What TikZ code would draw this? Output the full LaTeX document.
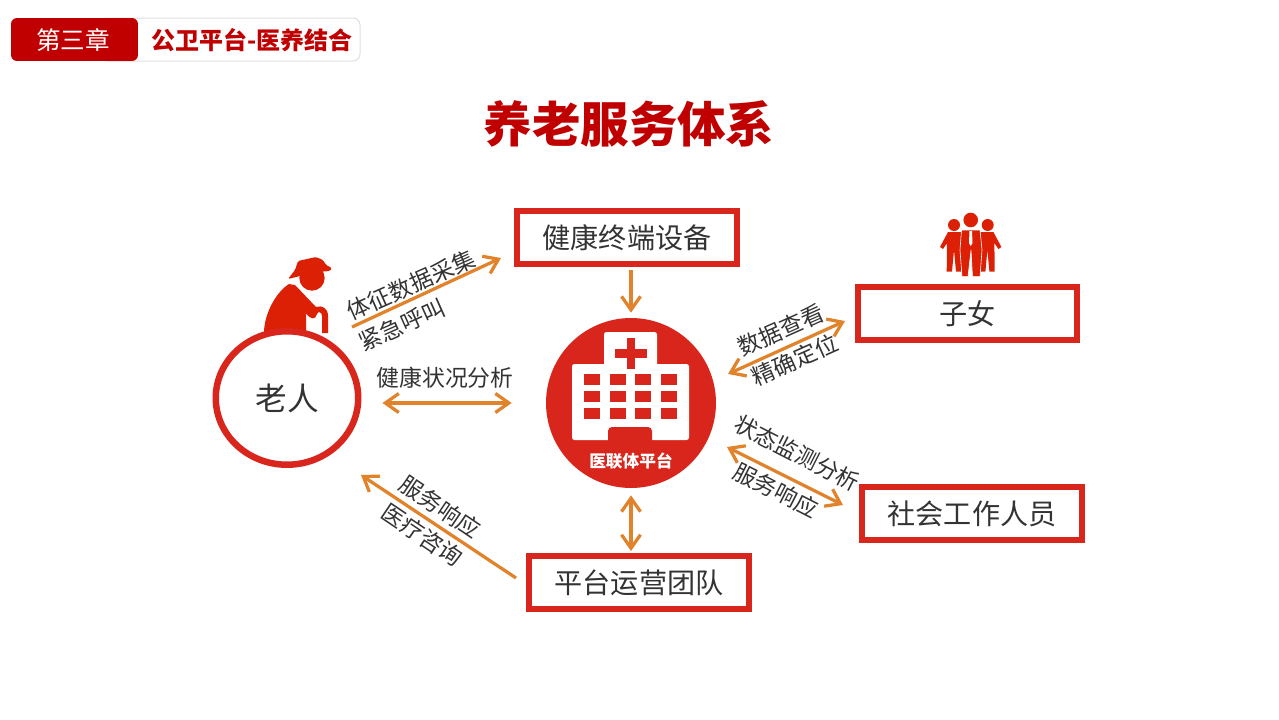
\documentclass[tikz,border=0pt]{standalone}
\usepackage{fontspec}
\usepackage{xcolor}
\setmainfont{Noto Sans CJK SC}
\usetikzlibrary{arrows.meta,shapes.geometric}
\definecolor{headred}{HTML}{C00000}
\definecolor{planred}{HTML}{D9261C}
\definecolor{iconred}{HTML}{DC2006}
\definecolor{flow}{HTML}{E0832B}
\definecolor{inktext}{HTML}{333333}
\tikzset{
 flowline/.style={draw=flow, line width=0.065cm, >={Straight Barb[length=0.27cm,width=0.38cm,line width=0.065cm]}},
 rolebox/.style={draw=planred, line width=0.12cm, minimum width=4.4cm, minimum height=1.06cm, inner sep=0pt, text=inktext, font=\fontsize{16}{16}\selectfont},
 flowtext/.style={text=inktext, inner sep=0pt, font=\fontsize{13}{13}\selectfont}
}
\begin{document}
\begin{tikzpicture}[x=0.02cm, y=-0.02cm]
 \useasboundingbox (0,0) rectangle (1279,720);
 % Chapter tab and title
 \draw[draw=black!12, fill=white, rounded corners=0.14cm, line width=0.02cm] (100,18) rectangle (360,61);
 \node[fill=headred, rounded corners=0.12cm, minimum width=2.54cm, minimum height=0.86cm, inner sep=0pt] (Chapter) at (74.5,39.5) {};
 \node[text=white, inner sep=0pt, font=\fontsize{14}{14}\selectfont] (ChapterText) at (73,40) {第三章};
 \node[text=headred, inner sep=0pt, font=\fontsize{13.65}{14}\selectfont\bfseries] (Section) at (252,40) {公卫平台-医养结合};
 \node[text=headred, inner sep=0pt, font=\fontsize{27.6}{28}\selectfont\bfseries] (Title) at (629,124) {养老服务体系};
 % Elder figure, drawn under the ring
 \fill[iconred] (264,333) .. controls (264,315) and (275,293) .. (289,284) -- (295,285) -- (316,307) .. controls (322,305) and (328,308) .. (328,316) -- (328,333) -- (322,333) -- (322,316) .. controls (322,312) and (318,311) .. (317,314) .. controls (316,320) and (310,320) .. (306,313) -- (306,333) -- cycle;
 \fill[iconred] (312,278) circle[radius=12.7];
 \fill[iconred, rounded corners=0.03cm] (288,279) -- (295,270) -- (298,261) -- (316,257) -- (323,260) -- (326,265) -- (332,268) -- (330,271) -- (317,272) -- (300,276) -- cycle;
 % Main nodes
 \node[ellipse, draw=planred, fill=white, line width=0.13cm, minimum width=2.85cm, minimum height=2.67cm, inner sep=0pt, text=inktext, font=\fontsize{18}{18}\selectfont] (Elder) at (287,398) {老人};
 \node[circle, fill=planred, minimum size=3.4cm, inner sep=0pt] (Hub) at (631,403) {};
 \node[rolebox] (Device) at (627,237.5) {健康终端设备};
 \node[rolebox] (Children) at (967.5,313.5) {子女};
 \node[rolebox] (Social) at (972,513.5) {社会工作人员};
 \node[rolebox] (Team) at (639,582.5) {平台运营团队};
 % Hospital icon inside the hub
 \fill[white, rounded corners=0.05cm] (604,332) rectangle (657,380);
 \fill[white, rounded corners=0.05cm] (572,364) rectangle (689,440);
 \fill[planred, rounded corners=0.08cm] (608,427) -- (652,427) -- (652,447) -- (608,447) -- cycle;
 \fill[planred] (627,338) rectangle (635,369);
 \fill[planred] (615,349) rectangle (647,358);
 \foreach \colx in {584.3,610,635.3,660.7}
  \foreach \rowy in {374,391,408.3}
   \fill[planred] (\colx,\rowy) rectangle ++(16,11);
 \node[text=white, inner sep=0pt, font=\fontsize{9.5}{10}\selectfont\bfseries] (HubText) at (631,461.5) {医联体平台};
 % Children figure
 \fill[iconred] (970.7,220) circle[radius=7.3];
 \fill[iconred] (954,225) circle[radius=6];
 \fill[iconred] (987.7,225) circle[radius=6];
 \foreach \mx/\sx in {0/1,1941.4/-1}
  \fill[iconred, xshift=\mx*0.02cm, xscale=\sx] (940,247) -- (948,232) -- (961,232) -- (961,271.7) -- (956,271.7) -- (954,250) -- (952,271.7) -- (946.7,271.7) -- (947,243) -- (943,249) -- cycle;
 \fill[iconred, draw=white, line width=0.012cm] (961.5,230) -- (980,230) -- (982,250) -- (980,276.7) -- (972.5,276.7) -- (971,250) -- (968,276.7) -- (962,276.7) -- (960,250) -- cycle;
 \fill[white] (969.5,231) -- (972,231) -- (972.5,243) -- (970.7,246) -- (969,243) -- cycle;
 % Free ends of the slanted arrows
 \coordinate (ElderOut) at (352,327);
 \coordinate (DeviceIn) at (501,258);
 \coordinate (HubUpper) at (728,374);
 \coordinate (ChildrenIn) at (845,321);
 \coordinate (HubLower) at (727,447);
 \coordinate (SocialIn) at (843,505);
 \coordinate (TeamOut) at (516,578);
 \coordinate (ElderIn) at (361,475);
 % Arrows
 \draw[flowline, ->, xshift=-0.04cm, shorten <=0.06cm, shorten >=0.1cm] (Device.south -| Hub.north) -- (Hub.north);
 \draw[flowline, <->, yshift=0.02cm, shorten <=0.42cm, shorten >=0.68cm] (Elder.east |- Hub.west) -- (Hub.west);
 \draw[flowline, ->] (ElderOut) -- (DeviceIn);
 \draw[flowline, <->] (HubUpper) -- (ChildrenIn);
 \draw[flowline, <->] (HubLower) -- (SocialIn);
 \draw[flowline, ->] (TeamOut) -- (ElderIn);
 \draw[flowline, <->, shorten <=0.14cm, shorten >=0.04cm] (Hub.south) -- (Hub.south |- Team.north);
 % Labels on the arrows
 \node[flowtext, rotate=24] (LabelA) at (411,285) {体征数据采集};
 \node[flowtext, rotate=24] (LabelB) at (402,325) {紧急呼叫};
 \node[flowtext] (LabelC) at (445,378) {健康状况分析};
 \node[flowtext, rotate=24] (LabelD) at (781,330) {数据查看};
 \node[flowtext, rotate=24] (LabelE) at (795,360) {精确定位};
 \node[flowtext, rotate=-27] (LabelF) at (797,453) {状态监测分析};
 \node[flowtext, rotate=-27] (LabelG) at (776,490) {服务响应};
 \node[flowtext, rotate=-34] (LabelH) at (440,507) {服务响应};
 \node[flowtext, rotate=-34] (LabelI) at (422,535) {医疗咨询};
\end{tikzpicture}
\end{document}
